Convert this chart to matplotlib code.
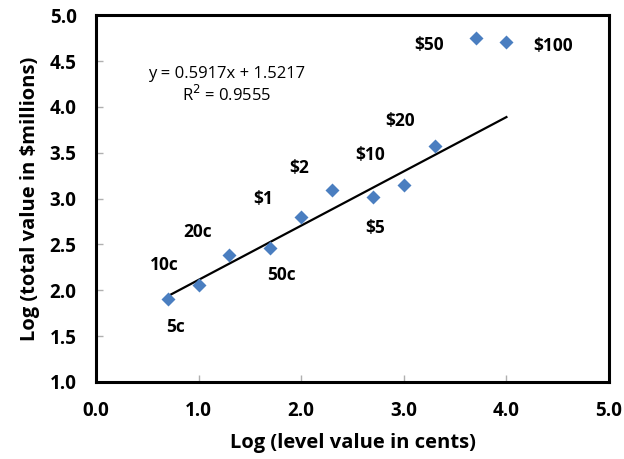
import matplotlib.pyplot as plt
import numpy as np

plt.rcParams['font.family'] = ['Open Sans', 'DejaVu Sans']

# log10 of note/coin value in cents vs log10 of total value in circulation
log_value = [0.70, 1.00, 1.30, 1.70, 2.00, 2.30, 2.70, 3.00, 3.30, 3.70, 4.00]
log_total = [1.90, 2.06, 2.38, 2.46, 2.80, 3.09, 3.02, 3.15, 3.57, 4.75, 4.71]
names = ['5c', '10c', '20c', '50c', '$1', '$2', '$5', '$10', '$20', '$50', '$100']
# label offsets in pixels from each point
offsets = [(8, -28), (-34, 20), (-32, 23), (11, -27), (-38, 18), (-33, 22),
           (2, -31), (-34, 30), (-35, 25), (-47, -7), (47, -4)]

slope, intercept, r2 = 0.5917, 1.5217, 0.9555

fig = plt.figure(figsize=(6.24, 4.59), dpi=100)
ax = fig.add_axes([0.1538, 0.1678, 0.8222, 0.7992])

xs = np.array([min(log_value), max(log_value)])
ax.plot(xs, slope * xs + intercept, color='black', lw=1.6, zorder=2)
ax.plot(log_value, log_total, 'D', color='#4A7EC0', ms=7.4, mec='none', zorder=3)

for x, y, name, (dx, dy) in zip(log_value, log_total, names, offsets):
    ax.annotate(name, (x, y), xytext=(dx, dy), textcoords='offset pixels',
                ha='center', va='center', fontsize=12.5, fontweight='bold')

ax.text(1.277, 4.36, 'y = %.4fx + %.4f' % (slope, intercept), ha='center',
        va='center', fontsize=12)
ax.text(1.277, 4.13, 'R$^2$ = %.4f' % r2, ha='center', va='center', fontsize=12)

ax.set_xlim(0, 5)
ax.set_ylim(1, 5)
ax.set_xticks(np.arange(0, 5.01, 1.0))
ax.set_yticks(np.arange(1, 5.01, 0.5))
ax.xaxis.set_major_formatter(plt.FormatStrFormatter('%.1f'))
ax.yaxis.set_major_formatter(plt.FormatStrFormatter('%.1f'))
ax.tick_params(direction='in', length=5, color='#B0B0B0', width=1)
ax.tick_params(axis='y', pad=14)
ax.tick_params(axis='x', pad=14)
for lbl in ax.get_xticklabels() + ax.get_yticklabels():
    lbl.set_fontweight('bold')
    lbl.set_fontsize(13.5)

for sp in ax.spines.values():
    sp.set_linewidth(2.2)
    sp.set_color('black')

ax.set_xlabel('Log (level value in cents)', fontsize=14.5, fontweight='bold', labelpad=8)
ax.set_ylabel('Log (total value in $millions)', fontsize=14.5, fontweight='bold', labelpad=7)

fig.savefig('out.png', dpi=100)
